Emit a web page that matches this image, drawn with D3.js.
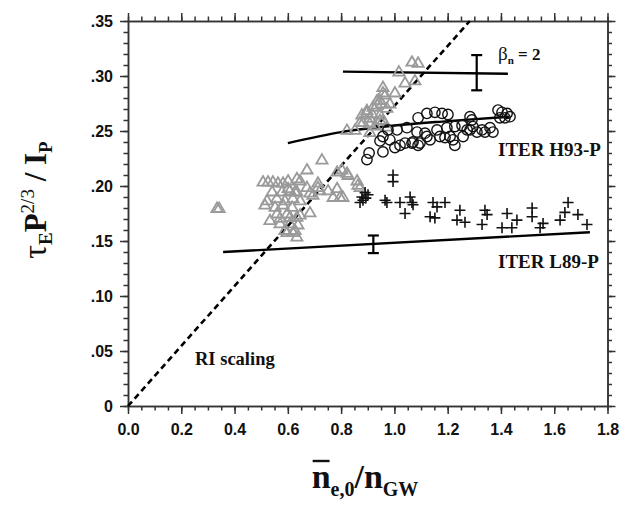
<html>
<head>
<script src="https://d3js.org/d3.v7.min.js"></script>
<style>
  body { margin: 0; background: #fff; }
  .tick text { font-family: "Liberation Sans", Arial, sans-serif; font-weight: bold; font-size: 16px; fill: #111; }
  .lbl { font-family: "Liberation Serif", "Times New Roman", serif; font-weight: bold; fill: #111; }
</style>
</head>
<body>
<svg id="chart" width="630" height="506"></svg>
<script>
// ---- data ----
var xTicks = [0, 0.2, 0.4, 0.6, 0.8, 1.0, 1.2, 1.4, 1.6, 1.8];
var yTicks = [0, 0.05, 0.10, 0.15, 0.20, 0.25, 0.30, 0.35];

// gray triangles
var triangles = [
  [1.017,0.304],[0.957,0.290],[1.002,0.285],[1.066,0.313],[1.089,0.312],[1.077,0.296],[1.040,0.294],
  [0.935,0.278],[0.953,0.275],[0.920,0.272],[0.972,0.271],[0.897,0.267],[0.946,0.265],[0.908,0.262],
  [0.957,0.260],[0.871,0.258],[0.927,0.255],[0.972,0.254],[0.897,0.269],[0.878,0.265],[0.916,0.266],
  [0.935,0.274],[0.946,0.278],[0.965,0.283],[0.983,0.275],[0.908,0.257],[0.882,0.258],[0.822,0.251],
  [0.852,0.251],[0.908,0.249],[0.946,0.260],[0.957,0.285],
  [0.728,0.224],[0.672,0.215],[0.785,0.213],[0.803,0.215],[0.826,0.210],[0.860,0.205],[0.871,0.199],
  [0.713,0.199],[0.751,0.196],[0.785,0.198],[0.694,0.192],[0.796,0.190],[0.646,0.205],[0.770,0.190],
  [0.807,0.190],[0.822,0.212],[0.863,0.201],[0.721,0.196],[0.683,0.194],[0.713,0.203],[0.672,0.199],
  [0.507,0.204],[0.526,0.204],[0.544,0.204],[0.563,0.203],[0.582,0.203],[0.601,0.205],[0.634,0.207],
  [0.541,0.195],[0.578,0.195],[0.608,0.196],[0.634,0.195],[0.601,0.198],[0.627,0.195],
  [0.522,0.187],[0.559,0.189],[0.589,0.187],[0.619,0.189],[0.646,0.187],
  [0.514,0.183],[0.552,0.181],[0.582,0.183],[0.616,0.181],
  [0.559,0.175],[0.597,0.175],[0.634,0.172],[0.646,0.174],[0.683,0.176],[0.571,0.171],[0.608,0.172],
  [0.533,0.169],[0.571,0.166],[0.608,0.166],
  [0.589,0.160],[0.619,0.158],[0.634,0.154],[0.597,0.158],[0.627,0.160],[0.638,0.165],
  [0.342,0.180],[0.334,0.180]
];

// open circles
var circles = [
  [1.089,0.262],[1.122,0.266],[1.152,0.267],[1.179,0.266],[1.201,0.265],[1.284,0.263],[1.291,0.260],
  [1.389,0.269],[1.404,0.267],[1.423,0.266],[1.434,0.263],[1.396,0.262],[1.415,0.262],
  [1.047,0.253],[1.085,0.249],[1.115,0.248],[1.160,0.251],[1.197,0.253],[1.227,0.254],[1.254,0.255],
  [1.273,0.251],[1.295,0.254],[1.329,0.251],[1.359,0.253],[1.370,0.249],
  [1.040,0.239],[1.066,0.239],[1.089,0.237],[1.134,0.242],[1.171,0.245],[1.190,0.244],[1.209,0.245],
  [1.220,0.242],[1.227,0.237],[1.258,0.245],[1.284,0.251],[1.310,0.249],[1.340,0.249],
  [1.010,0.251],[0.976,0.251],[0.957,0.245],[0.946,0.241],[0.983,0.242],[1.021,0.237],[0.957,0.231],
  [1.002,0.235],[1.070,0.240],[1.096,0.239],[1.122,0.245],[0.897,0.224],[0.905,0.230]
];

// plus signs
var pluses = [
  [0.995,0.210],[0.995,0.204],[0.878,0.190],[0.890,0.194],[0.901,0.192],[0.882,0.187],[0.893,0.189],
  [0.871,0.185],[0.965,0.187],[0.972,0.185],[1.021,0.185],[1.059,0.190],[1.066,0.185],[1.070,0.183],
  [1.040,0.175],[1.145,0.185],[1.160,0.181],[1.190,0.185],[1.134,0.172],[1.152,0.171],[1.246,0.178],
  [1.235,0.169],[1.265,0.167],[1.340,0.178],[1.348,0.174],[1.329,0.165],[1.423,0.175],[1.404,0.162],
  [1.441,0.162],[1.460,0.169],[1.517,0.180],[1.517,0.172],[1.558,0.166],[1.547,0.162],[1.622,0.169],
  [1.652,0.185],[1.640,0.176],[1.689,0.174],[1.723,0.165]
];

// fitted lines
var betaLine = [[0.807,0.304],[1.426,0.302]];
var h93Line = [[0.60,0.239],[0.80,0.249],[1.00,0.255],[1.20,0.259],[1.43,0.263]];
var l89Line = [[0.357,0.140],[1.734,0.158]];
var riLine = [[0,0],[1.283,0.35]];

// error bars: x, ylow, yhigh
var errBars = [[1.309,0.287,0.319],[0.921,0.139,0.155]];

// ---- layout ----
var W = 630, H = 506;
var mLeft = 128, mRight = 607.5, mTop = 21, mBottom = 406;

var svg = d3.select("#chart");
var x = d3.scaleLinear().domain([0, 1.8]).range([mLeft, mRight]);
var y = d3.scaleLinear().domain([0, 0.35]).range([mBottom, mTop]);

var yFmt = function (d) { return d === 0 ? "0" : d3.format(".2f")(d).replace(/^0/, ""); };

var xMinor = d3.range(0, 1.8001, 0.05).map(function (d) { return +d.toFixed(2); });
var yMinor = d3.range(0, 0.3501, 0.01).map(function (d) { return +d.toFixed(2); });

function styleAxis(g) {
  g.select(".domain").attr("stroke", "#333").attr("stroke-width", 1.5);
  g.selectAll(".tick line").attr("stroke", "#333").attr("stroke-width", 1.5);
}

// minor ticks (all four sides)
svg.append("g").attr("transform", "translate(0," + mBottom + ")")
  .call(d3.axisBottom(x).tickValues(xMinor).tickSize(4.5).tickFormat("").tickSizeOuter(0)).call(styleAxis);
svg.append("g").attr("transform", "translate(0," + mTop + ")")
  .call(d3.axisTop(x).tickValues(xMinor).tickSize(4.5).tickFormat("").tickSizeOuter(0)).call(styleAxis);
svg.append("g").attr("transform", "translate(" + mLeft + ",0)")
  .call(d3.axisLeft(y).tickValues(yMinor).tickSize(4.5).tickFormat("").tickSizeOuter(0)).call(styleAxis);
svg.append("g").attr("transform", "translate(" + mRight + ",0)")
  .call(d3.axisRight(y).tickValues(yMinor).tickSize(4.5).tickFormat("").tickSizeOuter(0)).call(styleAxis);

// major ticks
svg.append("g").attr("transform", "translate(0," + mBottom + ")")
  .call(d3.axisBottom(x).tickValues(xTicks).tickSize(8).tickPadding(10).tickFormat(d3.format(".1f")).tickSizeOuter(0))
  .call(styleAxis);
svg.append("g").attr("transform", "translate(0," + mTop + ")")
  .call(d3.axisTop(x).tickValues(xTicks).tickSize(8).tickFormat("").tickSizeOuter(0)).call(styleAxis);
svg.append("g").attr("transform", "translate(" + mLeft + ",0)")
  .call(d3.axisLeft(y).tickValues(yTicks).tickSize(8).tickPadding(7).tickFormat(yFmt).tickSizeOuter(0))
  .call(styleAxis);
svg.append("g").attr("transform", "translate(" + mRight + ",0)")
  .call(d3.axisRight(y).tickValues(yTicks).tickSize(8).tickFormat("").tickSizeOuter(0)).call(styleAxis);

// ---- lines ----
var line = d3.line().x(function (d) { return x(d[0]); }).y(function (d) { return y(d[1]); });

svg.append("path").datum(riLine).attr("d", line)
  .attr("fill", "none").attr("stroke", "#000").attr("stroke-width", 2.6).attr("stroke-dasharray", "6,4");

[betaLine, l89Line].forEach(function (l) {
  svg.append("path").datum(l).attr("d", line)
    .attr("fill", "none").attr("stroke", "#000").attr("stroke-width", 2.4);
});
svg.append("path").datum(h93Line).attr("d", line.curve(d3.curveMonotoneX))
  .attr("fill", "none").attr("stroke", "#000").attr("stroke-width", 2.4);

// ---- markers ----
svg.append("g").selectAll("path").data(triangles).enter().append("path")
  .attr("transform", function (d) { return "translate(" + x(d[0]) + "," + y(d[1]) + ")"; })
  .attr("d", "M0,-5.5L5.6,4L-5.6,4Z")
  .attr("fill", "none").attr("stroke", "#9a9a9a").attr("stroke-width", 1.8);

svg.append("g").selectAll("circle").data(circles).enter().append("circle")
  .attr("cx", function (d) { return x(d[0]); })
  .attr("cy", function (d) { return y(d[1]); })
  .attr("r", 5.2)
  .attr("fill", "none").attr("stroke", "#111").attr("stroke-width", 1.4);

svg.append("g").selectAll("path").data(pluses).enter().append("path")
  .attr("transform", function (d) { return "translate(" + x(d[0]) + "," + y(d[1]) + ")"; })
  .attr("d", "M-5.5,0H5.5M0,-5.5V5.5")
  .attr("fill", "none").attr("stroke", "#111").attr("stroke-width", 1.6);

// ---- error bars ----
errBars.forEach(function (e) {
  var g = svg.append("g").attr("stroke", "#000").attr("stroke-width", 2.2);
  g.append("line").attr("x1", x(e[0])).attr("x2", x(e[0])).attr("y1", y(e[1])).attr("y2", y(e[2]));
  [e[1], e[2]].forEach(function (v) {
    g.append("line").attr("x1", x(e[0]) - 5.5).attr("x2", x(e[0]) + 5.5).attr("y1", y(v)).attr("y2", y(v));
  });
});

// ---- annotations ----
var beta = svg.append("text").attr("class", "lbl").attr("x", 498).attr("y", 60).attr("font-size", 17);
beta.append("tspan").attr("font-weight", "normal").attr("font-size", 19).text("β");
beta.append("tspan").attr("font-size", 11).attr("dy", 4).text("n");
beta.append("tspan").attr("dy", -4).text(" = 2");

svg.append("text").attr("class", "lbl").attr("x", 498).attr("y", 156).attr("font-size", 19).text("ITER H93-P");
svg.append("text").attr("class", "lbl").attr("x", 498).attr("y", 268).attr("font-size", 19).text("ITER L89-P");
svg.append("text").attr("class", "lbl").attr("x", 195).attr("y", 365).attr("font-size", 18.5).text("RI scaling");

// axis titles
var xt = svg.append("text").attr("class", "lbl").attr("x", 365).attr("y", 488)
  .attr("text-anchor", "middle").attr("font-size", 34);
xt.append("tspan").text("n");
xt.append("tspan").attr("font-size", 20).attr("dy", 8).text("e,0");
xt.append("tspan").attr("dy", -8).text("/n");
xt.append("tspan").attr("font-size", 20).attr("dy", 8).text("GW");
// bar over the first n
var nBox = xt.node().getExtentOfChar(0);
svg.append("line")
  .attr("x1", nBox.x + 1).attr("x2", nBox.x + nBox.width - 1)
  .attr("y1", 461).attr("y2", 461)
  .attr("stroke", "#111").attr("stroke-width", 2.4);

var yt = svg.append("text").attr("class", "lbl")
  .attr("transform", "translate(46,200) rotate(-90)")
  .attr("text-anchor", "middle").attr("font-size", 31);
yt.append("tspan").attr("font-weight", "normal").attr("font-size", 34).text("τ");
yt.append("tspan").attr("font-size", 19).attr("dy", 6).text("E");
yt.append("tspan").attr("dy", -6).text("P");
yt.append("tspan").attr("font-size", 19).attr("font-weight", "normal").attr("dy", -12).text("2/3");
yt.append("tspan").attr("dy", 12).text(" / I");
yt.append("tspan").attr("font-size", 19).attr("dy", 6).text("P");
</script>
</body>
</html>
